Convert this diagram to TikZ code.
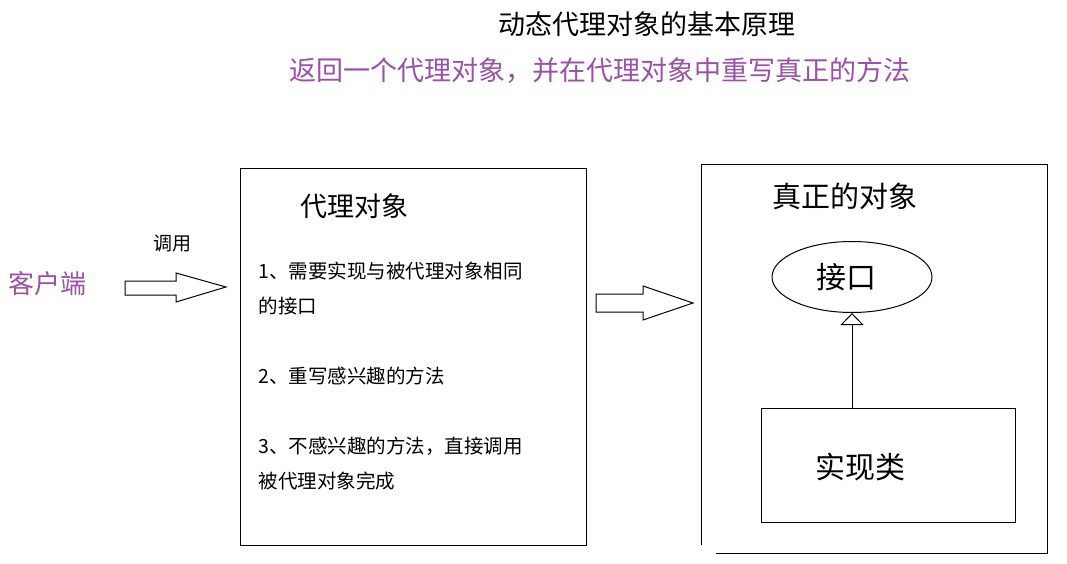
\documentclass[tikz,border=0pt]{standalone}
\usepackage{fontspec}
\setmainfont{Noto Sans CJK SC}
\usetikzlibrary{arrows.meta,shapes.geometric}
\definecolor{notepurple}{RGB}{155,80,170}
\tikzset{
  cn/.style={inner sep=0pt, font=\fontsize{#1}{#1}\selectfont},
  listline/.style={cn=19.5, anchor=west},
  frame/.style={draw, inner sep=0pt},
}
\begin{document}
\begin{tikzpicture}[line width=1pt,x=1pt,y=-1pt]
\useasboundingbox (0,0) rectangle (1067,564);
\node[cn=27] (title) at (647,24) {动态代理对象的基本原理};
\node[cn=27, text=notepurple] (subtitle) at (600,71) {返回一个代理对象，并在代理对象中重写真正的方法};
\node[cn=26, text=notepurple] (client) at (48,284) {客户端};
\node[cn=19] (call) at (172,244) {调用};
\draw (125,281) -- (176,281) -- (176,273) -- (226,287)
	-- (176,302) -- (176,295) -- (125,295) -- cycle;
\node[frame, minimum width=346, minimum height=376] (proxy) at (413,357) {};
\node[cn=27] (proxyTitle) at (354,206) {代理对象};
\node[listline] (step1) at (258,271) {1、需要实现与被代理对象相同};
\node[listline] (step1b) at (258,306) {的接口};
\node[listline] (step2) at (258,376) {2、重写感兴趣的方法};
\node[listline] (step3) at (258,446) {3、不感兴趣的方法，直接调用};
\node[listline] (step3b) at (258,481) {被代理对象完成};
\draw (596,294) -- (643,294) -- (643,286) -- (693,303)
	-- (643,320) -- (643,312) -- (596,312) -- cycle;
\draw (716,553) -- (1047,553) -- (1047,165) -- (701,165) -- (701,545);
\node[cn=29] (real) at (845,196) {真正的对象};
\node[frame, ellipse, minimum width=160, minimum height=71] (intf) at (852,277) {};
\node[cn=30] (intfText) at (846,277) {接口};
\node[frame, minimum width=254, minimum height=114] (impl) at (888,465) {};
\node[cn=30] (implText) at (860,467) {实现类};
\draw[-{Triangle[open,length=12pt,width=23pt]}] (intf.south |- impl.north) -- (intf.south);
\end{tikzpicture}
\end{document}
